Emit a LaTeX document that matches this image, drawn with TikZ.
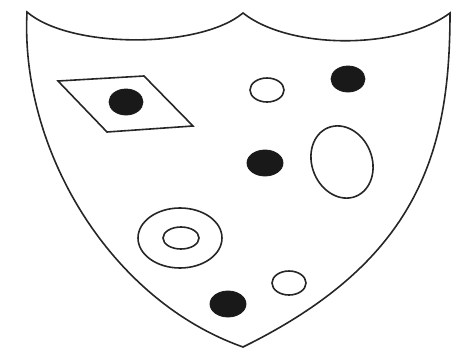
\documentclass[tikz,border=0pt]{standalone}
\begin{document}
\begin{tikzpicture}[x=1pt,y=-1pt,
  outline/.style={draw=black!85,line width=1.6pt},
  spot/.style={fill=black!90,draw=black!90,line width=0.8pt}]
\useasboundingbox (0,0) rectangle (451,354);
% shield
\draw[outline,line join=miter] (27,12) .. controls (70,49) and (200,49) .. (243,13)
  .. controls (290,50) and (400,50) .. (450,13)
  .. controls (450,150) and (420,260) .. (243,347)
  .. controls (110,300) and (20,150) .. (27,12) -- cycle;
% parallelogram
\draw[outline] (58,81) -- (144,76) -- (193,126) -- (107,132) -- cycle;
% filled spots
\fill[spot] (126,102) ellipse [x radius=17pt, y radius=13pt];
\fill[spot] (348,79) ellipse [x radius=17pt, y radius=13pt];
\fill[spot] (265,163) ellipse [x radius=18pt, y radius=13pt];
\fill[spot] (228,304) ellipse [x radius=18pt, y radius=13pt];
% open circles
\draw[outline] (267,90) ellipse [x radius=17pt, y radius=12pt];
\draw[outline] (289,283) ellipse [x radius=17pt, y radius=12pt];
\draw[outline,rotate around={22:(342,162)}] (342,162) ellipse [x radius=30pt, y radius=37pt];
\draw[outline] (180,238) ellipse [x radius=42pt, y radius=30pt];
\draw[outline] (181,238) ellipse [x radius=18pt, y radius=11pt];
\end{tikzpicture}
\end{document}
